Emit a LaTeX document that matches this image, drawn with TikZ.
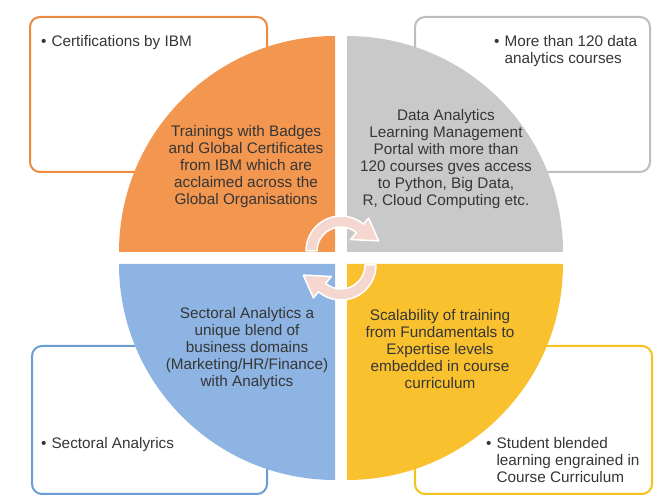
\documentclass[tikz,border=0pt]{standalone}
\usepackage{fontspec}
\setmainfont{Liberation Sans}
\usepackage{xcolor}
\usepackage{tikz}
\usetikzlibrary{calc}

\definecolor{qorange}{HTML}{F29650}
\definecolor{qgray}{HTML}{C9C9C9}
\definecolor{qblue}{HTML}{8DB4E2}
\definecolor{qyellow}{HTML}{F9C12E}
\definecolor{borange}{HTML}{EC8A42}
\definecolor{bgray}{HTML}{BDBDBD}
\definecolor{bblue}{HTML}{6A9DD6}
\definecolor{byellow}{HTML}{F5C21C}
\definecolor{arrowfill}{HTML}{F5D7D0}
\definecolor{txt}{HTML}{363636}

\tikzset{
	infobox/.style={rounded corners=10pt, line width=2pt, fill=white},
	quartertext/.style={align=center, text=txt, font=\fontsize{15.3}{17}\selectfont, inner sep=0pt},
	bullettext/.style={text=txt, font=\fontsize{15.3}{17}\selectfont, inner sep=0pt, anchor=base west},
	cyclearrow/.style={fill=arrowfill, draw=white, line width=1.5pt, line join=round}
}

\begin{document}
\begin{tikzpicture}[x=1pt,y=1pt]
			\useasboundingbox (0,0) rectangle (665,496);

			\draw[infobox, draw=borange] (30,324) rectangle (267,479);
			\draw[infobox, draw=bgray] (415,324) rectangle (650,479);
			\draw[infobox, draw=bblue] (32,2) rectangle (267,150);
			\draw[infobox, draw=byellow] (415,2) rectangle (652,150);

			\fill[qorange] (335,244) -- (119,244) arc[start angle=180, end angle=90, radius=216] -- cycle;
			\fill[qgray] (347,244) -- (347,460) arc[start angle=90, end angle=0, radius=216] -- cycle;
			\fill[qblue] (335,232) -- (119,232) arc[start angle=180, end angle=270, radius=216] -- cycle;
			\fill[qyellow] (347,232) -- (563,232) arc[start angle=0, end angle=-90, radius=216] -- cycle;

			\begin{scope}[shift={(341,245)}]
				\draw[cyclearrow] (180:35) arc[start angle=180, end angle=50, radius=35]
					-- (50:43) -- (15:39) -- (50:15) -- (50:24)
					arc[start angle=50, end angle=180, radius=24] -- cycle;
			\end{scope}
			\begin{scope}[shift={(341,231)}, rotate=180]
				\draw[cyclearrow] (180:35) arc[start angle=180, end angle=50, radius=35]
					-- (50:43) -- (15:39) -- (50:15) -- (50:24)
					arc[start angle=50, end angle=180, radius=24] -- cycle;
			\end{scope}

			\node[quartertext] (ibm) at (246,329)
			{Trainings with Badges\\and Global Certificates\\from IBM which are\\acclaimed across the\\Global Organisations};
			\node[quartertext] (portal) at (446,337)
			{Data Analytics\\Learning Management\\Portal with more than\\120 courses gves access\\to Python, Big Data,\\R, Cloud Computing etc.};
			\node[quartertext] (sectoral) at (247,147)
			{Sectoral Analytics a\\unique blend of\\business domains\\(Marketing/HR/Finance)\\with Analytics};
			\node[quartertext] (scalability) at (440,147)
			{Scalability of training\\from Fundamentals to\\Expertise levels\\embedded in course\\curriculum};

			\node[bullettext] (certs) at (41,449)
			{
				\begin{tabular}[t]{@{}l@{\hspace{5pt}}l@{}}
					\textbullet & Certifications by IBM \\
				\end{tabular}
			};
			\node[bullettext] (courses) at (494,449)
			{
				\begin{tabular}[t]{@{}l@{\hspace{5pt}}l@{}}
					\textbullet & More than 120 data \\
					 & analytics courses \\
				\end{tabular}
			};
			\node[bullettext] (sectorbox) at (41,47)
			{
				\begin{tabular}[t]{@{}l@{\hspace{5pt}}l@{}}
					\textbullet & Sectoral Analyrics \\
				\end{tabular}
			};
			\node[bullettext] (student) at (486,47)
			{
				\begin{tabular}[t]{@{}l@{\hspace{5pt}}l@{}}
					\textbullet & Student blended \\
					 & learning engrained in \\
					 & Course Curriculum \\
				\end{tabular}
			};
		\end{tikzpicture}
\end{document}
